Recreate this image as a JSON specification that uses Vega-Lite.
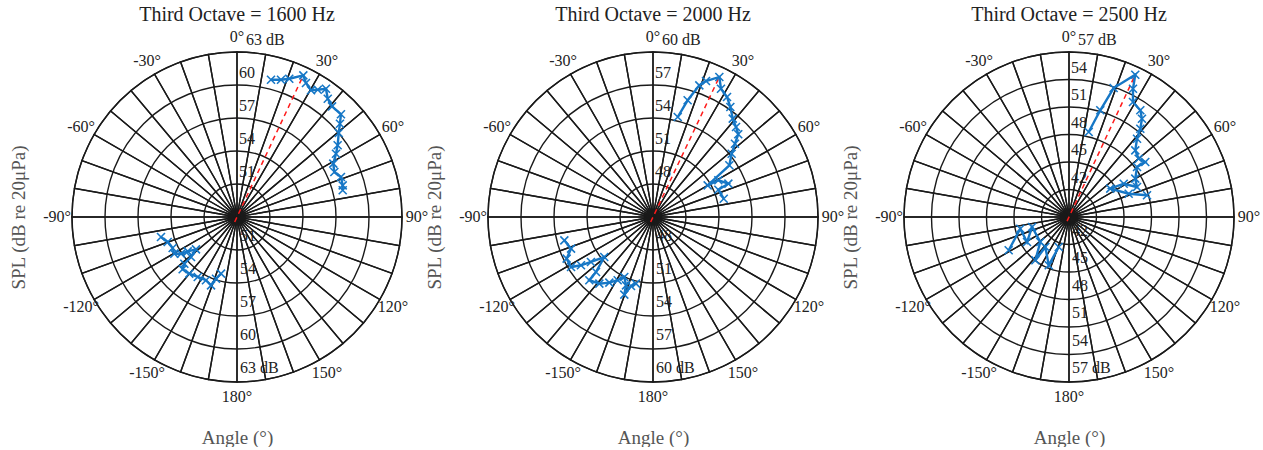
{
  "$schema": "https://vega.github.io/schema/vega-lite/v6.json",
  "background": "white",
  "padding": {"left": 9, "top": 5, "right": 0, "bottom": 0},
  "bounds": "flush",
  "spacing": 86,
  "datasets": {
    "spokes": [
      {"a0": 0, "a1": 10}, {"a0": 10, "a1": 20}, {"a0": 20, "a1": 30}, {"a0": 30, "a1": 40},
      {"a0": 40, "a1": 50}, {"a0": 50, "a1": 60}, {"a0": 60, "a1": 70}, {"a0": 70, "a1": 80},
      {"a0": 80, "a1": 90}, {"a0": 90, "a1": 100}, {"a0": 100, "a1": 110}, {"a0": 110, "a1": 120},
      {"a0": 120, "a1": 130}, {"a0": 130, "a1": 140}, {"a0": 140, "a1": 150}, {"a0": 150, "a1": 160},
      {"a0": 160, "a1": 170}, {"a0": 170, "a1": 180}, {"a0": 180, "a1": 190}, {"a0": 190, "a1": 200},
      {"a0": 200, "a1": 210}, {"a0": 210, "a1": 220}, {"a0": 220, "a1": 230}, {"a0": 230, "a1": 240},
      {"a0": 240, "a1": 250}, {"a0": 250, "a1": 260}, {"a0": 260, "a1": 270}, {"a0": 270, "a1": 280},
      {"a0": 280, "a1": 290}, {"a0": 290, "a1": 300}, {"a0": 300, "a1": 310}, {"a0": 310, "a1": 320},
      {"a0": 320, "a1": 330}, {"a0": 330, "a1": 340}, {"a0": 340, "a1": 350}, {"a0": 350, "a1": 360}
    ],
    "angs": [
      {"ang": 0, "t": "0°"}, {"ang": 30, "t": "30°"}, {"ang": 60, "t": "60°"}, {"ang": 90, "t": "90°"},
      {"ang": 120, "t": "120°"}, {"ang": 150, "t": "150°"}, {"ang": 180, "t": "180°"}, {"ang": 210, "t": "-150°"},
      {"ang": 240, "t": "-120°"}, {"ang": 270, "t": "-90°"}, {"ang": 300, "t": "-60°"}, {"ang": 330, "t": "-30°"}
    ],
    "rings1": [
      {"spl": 51, "t": "51"}, {"spl": 54, "t": "54"}, {"spl": 57, "t": "57"}, {"spl": 60, "t": "60"}, {"spl": 63, "t": "63 dB"}
    ],
    "rings2": [
      {"spl": 48, "t": "48"}, {"spl": 51, "t": "51"}, {"spl": 54, "t": "54"}, {"spl": 57, "t": "57"}, {"spl": 60, "t": "60 dB"}
    ],
    "rings3": [
      {"spl": 42, "t": "42"}, {"spl": 45, "t": "45"}, {"spl": 48, "t": "48"}, {"spl": 51, "t": "51"}, {"spl": 54, "t": "54"}, {"spl": 57, "t": "57 dB"}
    ],
    "max1": [{"x": -0.21, "y": -0.45}, {"x": 6.03, "y": 12.88}],
    "max2": [{"x": -0.21, "y": -0.45}, {"x": 6.03, "y": 12.73}],
    "max3": [{"x": -0.21, "y": -0.45}, {"x": 7.23, "y": 15.52}],
    "d1": [
      {"i": 1, "seg": "a", "x": 3.09, "y": 12.48}, {"i": 2, "seg": "a", "x": 4.0, "y": 12.48},
      {"i": 3, "seg": "a", "x": 4.75, "y": 12.57}, {"i": 4, "seg": "a", "x": 6.03, "y": 12.88},
      {"i": 5, "seg": "a", "x": 6.27, "y": 12.18}, {"i": 6, "seg": "a", "x": 6.73, "y": 11.52},
      {"i": 7, "seg": "a", "x": 7.34, "y": 11.57}, {"i": 8, "seg": "a", "x": 8.09, "y": 11.66},
      {"i": 9, "seg": "a", "x": 8.25, "y": 10.75}, {"i": 10, "seg": "a", "x": 8.64, "y": 10.06},
      {"i": 11, "seg": "a", "x": 9.45, "y": 9.34}, {"i": 12, "seg": "a", "x": 9.36, "y": 8.48},
      {"i": 13, "seg": "a", "x": 9.25, "y": 7.64}, {"i": 14, "seg": "a", "x": 9.15, "y": 6.52},
      {"i": 15, "seg": "a", "x": 9.0, "y": 5.75}, {"i": 16, "seg": "a", "x": 8.75, "y": 4.85},
      {"i": 17, "seg": "a", "x": 8.85, "y": 4.09}, {"i": 18, "seg": "a", "x": 9.45, "y": 3.64},
      {"i": 19, "seg": "a", "x": 9.61, "y": 2.88}, {"i": 20, "seg": "a", "x": 9.61, "y": 2.43},
      {"i": 21, "seg": "b", "x": -6.91, "y": -1.82}, {"i": 22, "seg": "b", "x": -6.30, "y": -2.27},
      {"i": 23, "seg": "b", "x": -5.85, "y": -2.82}, {"i": 24, "seg": "b", "x": -5.70, "y": -3.34},
      {"i": 25, "seg": "b", "x": -5.09, "y": -3.34}, {"i": 26, "seg": "b", "x": -4.48, "y": -3.12},
      {"i": 27, "seg": "b", "x": -3.73, "y": -2.94}, {"i": 28, "seg": "b", "x": -4.18, "y": -3.64},
      {"i": 29, "seg": "b", "x": -4.79, "y": -4.25}, {"i": 30, "seg": "b", "x": -4.94, "y": -4.75},
      {"i": 31, "seg": "b", "x": -4.34, "y": -5.15}, {"i": 32, "seg": "b", "x": -3.57, "y": -5.45},
      {"i": 33, "seg": "b", "x": -2.82, "y": -5.75}, {"i": 34, "seg": "b", "x": -2.36, "y": -6.21},
      {"i": 35, "seg": "b", "x": -1.91, "y": -5.61}, {"i": 36, "seg": "b", "x": -1.45, "y": -5.15}
    ],
    "d2": [
      {"i": 1, "seg": "a", "x": 2.25, "y": 9.09}, {"i": 2, "seg": "a", "x": 3.15, "y": 10.61},
      {"i": 3, "seg": "a", "x": 4.21, "y": 11.97}, {"i": 4, "seg": "a", "x": 4.82, "y": 12.36},
      {"i": 5, "seg": "a", "x": 6.03, "y": 12.73}, {"i": 6, "seg": "a", "x": 6.18, "y": 11.66},
      {"i": 7, "seg": "a", "x": 6.73, "y": 10.91}, {"i": 8, "seg": "a", "x": 7.03, "y": 10.0},
      {"i": 9, "seg": "a", "x": 7.25, "y": 8.94}, {"i": 10, "seg": "a", "x": 7.55, "y": 8.18},
      {"i": 11, "seg": "a", "x": 7.75, "y": 7.52}, {"i": 12, "seg": "a", "x": 7.45, "y": 6.66},
      {"i": 13, "seg": "a", "x": 7.15, "y": 5.75}, {"i": 14, "seg": "a", "x": 6.94, "y": 4.70},
      {"i": 15, "seg": "a", "x": 4.97, "y": 2.88}, {"i": 16, "seg": "a", "x": 5.94, "y": 3.34},
      {"i": 17, "seg": "a", "x": 6.85, "y": 3.03}, {"i": 18, "seg": "a", "x": 5.94, "y": 2.48},
      {"i": 19, "seg": "a", "x": 6.43, "y": 1.66},
      {"i": 20, "seg": "b", "x": -8.06, "y": -2.12}, {"i": 21, "seg": "b", "x": -7.45, "y": -2.88},
      {"i": 22, "seg": "b", "x": -7.85, "y": -3.79}, {"i": 23, "seg": "b", "x": -7.45, "y": -4.55},
      {"i": 24, "seg": "b", "x": -6.55, "y": -4.39}, {"i": 25, "seg": "b", "x": -5.64, "y": -4.09},
      {"i": 26, "seg": "b", "x": -4.43, "y": -3.64}, {"i": 27, "seg": "b", "x": -5.18, "y": -5.0},
      {"i": 28, "seg": "b", "x": -5.79, "y": -5.75}, {"i": 29, "seg": "b", "x": -4.88, "y": -6.06},
      {"i": 30, "seg": "b", "x": -3.97, "y": -5.97}, {"i": 31, "seg": "b", "x": -3.21, "y": -5.75},
      {"i": 32, "seg": "b", "x": -2.61, "y": -5.45}, {"i": 33, "seg": "b", "x": -2.45, "y": -6.21},
      {"i": 34, "seg": "b", "x": -2.61, "y": -7.06}, {"i": 35, "seg": "b", "x": -2.0, "y": -6.27},
      {"i": 36, "seg": "b", "x": -1.55, "y": -6.06}
    ],
    "d3": [
      {"i": 1, "seg": "a", "x": 2.15, "y": 9.27}, {"i": 2, "seg": "a", "x": 3.41, "y": 11.64},
      {"i": 3, "seg": "a", "x": 4.87, "y": 14.07}, {"i": 4, "seg": "a", "x": 7.23, "y": 15.52},
      {"i": 5, "seg": "a", "x": 6.98, "y": 13.99}, {"i": 6, "seg": "a", "x": 6.98, "y": 12.54},
      {"i": 7, "seg": "a", "x": 7.78, "y": 11.64}, {"i": 8, "seg": "a", "x": 7.96, "y": 10.72},
      {"i": 9, "seg": "a", "x": 7.78, "y": 9.63}, {"i": 10, "seg": "a", "x": 7.42, "y": 8.54},
      {"i": 11, "seg": "a", "x": 7.23, "y": 7.27}, {"i": 12, "seg": "a", "x": 7.60, "y": 6.36},
      {"i": 13, "seg": "a", "x": 8.32, "y": 6.0}, {"i": 14, "seg": "a", "x": 7.42, "y": 5.45},
      {"i": 15, "seg": "a", "x": 7.23, "y": 4.18}, {"i": 16, "seg": "a", "x": 7.42, "y": 3.27},
      {"i": 17, "seg": "a", "x": 5.97, "y": 3.63}, {"i": 18, "seg": "a", "x": 4.50, "y": 3.09},
      {"i": 19, "seg": "a", "x": 6.51, "y": 2.54}, {"i": 20, "seg": "a", "x": 8.51, "y": 2.37},
      {"i": 21, "seg": "b", "x": -6.58, "y": -3.63}, {"i": 22, "seg": "b", "x": -5.31, "y": -1.28},
      {"i": 23, "seg": "b", "x": -4.58, "y": -2.73}, {"i": 24, "seg": "b", "x": -4.03, "y": -1.09},
      {"i": 25, "seg": "b", "x": -3.13, "y": -2.73}, {"i": 26, "seg": "b", "x": -3.67, "y": -4.72},
      {"i": 27, "seg": "b", "x": -2.58, "y": -3.27}, {"i": 28, "seg": "b", "x": -2.21, "y": -5.27},
      {"i": 29, "seg": "b", "x": -1.12, "y": -3.27}
    ]
  },
  "hconcat": [
    {
      "title": "Third Octave = 1600 Hz",
      "width": 330, "height": 330,
      "layer": [
        {"data": {"name": "rings1"}, "transform": [{"filter": "datum.spl < 63"}], "mark": {"type": "text", "align": "left", "baseline": "middle", "dx": 2, "dy": -12, "font": "Liberation Serif", "fontSize": 16, "color": "#222"},
         "encoding": {"theta": {"value": 0}, "radius": {"field": "spl", "type": "quantitative", "stack": null, "scale": {"type": "linear", "domain": [48, 63], "range": [0, 165], "zero": false}}, "text": {"field": "t"}}},
        {"data": {"name": "rings1"}, "transform": [{"filter": "datum.spl == 63"}], "mark": {"type": "text", "align": "left", "baseline": "middle", "dx": 9, "dy": -12, "font": "Liberation Serif", "fontSize": 16, "color": "#222"},
         "encoding": {"theta": {"value": 0}, "radius": {"field": "spl", "type": "quantitative", "stack": null}, "text": {"field": "t"}}},
        {"data": {"name": "rings1"}, "mark": {"type": "text", "align": "left", "baseline": "middle", "dx": 3, "dy": -14, "font": "Liberation Serif", "fontSize": 16, "color": "#222"},
         "encoding": {"theta": {"value": 3.14159}, "radius": {"field": "spl", "type": "quantitative", "stack": null}, "text": {"field": "t"}}},
        {"data": {"name": "spokes"}, "mark": {"type": "arc", "fillOpacity": 0, "stroke": "#1a1a1a", "strokeWidth": 1.4, "radius": 165},
         "encoding": {"theta": {"field": "a0", "type": "quantitative", "stack": null, "scale": {"type": "linear", "domain": [0, 360], "range": [0, 6.283185]}}, "theta2": {"field": "a1"}}},
        {"data": {"name": "rings1"}, "mark": {"type": "arc", "fillOpacity": 0, "stroke": "#1a1a1a", "strokeWidth": 1.4, "theta": 0, "theta2": 6.2832},
         "encoding": {"radius": {"field": "spl", "type": "quantitative", "stack": null}}},
        {"data": {"name": "angs"}, "mark": {"type": "text", "align": "center", "baseline": "middle", "font": "Liberation Serif", "fontSize": 16, "color": "#222"},
         "encoding": {"theta": {"field": "ang", "type": "quantitative", "stack": null}, "radius": {"value": 180}, "text": {"field": "t"}}},
        {"data": {"name": "max1"}, "mark": {"type": "line", "color": "#ff1a1a", "strokeDash": [5, 4], "strokeWidth": 1.5},
         "encoding": {"x": {"field": "x", "type": "quantitative", "title": "Angle (°)", "scale": {"domain": [-15, 15], "nice": false, "zero": false}},
                      "y": {"field": "y", "type": "quantitative", "title": "SPL (dB re 20μPa)", "scale": {"domain": [-15, 15], "nice": false, "zero": false}}}},
        {"data": {"name": "d1"}, "mark": {"type": "line", "color": "#1677c6", "strokeWidth": 2.4},
         "encoding": {"x": {"field": "x", "type": "quantitative", "title": "Angle (°)"}, "y": {"field": "y", "type": "quantitative", "title": "SPL (dB re 20μPa)"}, "detail": {"field": "seg"}, "order": {"field": "i"}}},
        {"data": {"name": "d1"}, "mark": {"type": "point", "shape": "M-1,-1L1,1M-1,1L1,-1", "filled": false, "color": "#1677c6", "strokeWidth": 1.6, "size": 64, "opacity": 1},
         "encoding": {"x": {"field": "x", "type": "quantitative", "title": "Angle (°)"}, "y": {"field": "y", "type": "quantitative", "title": "SPL (dB re 20μPa)"}}}
      ]
    },
    {
      "title": "Third Octave = 2000 Hz",
      "width": 330, "height": 330,
      "layer": [
        {"data": {"name": "rings2"}, "transform": [{"filter": "datum.spl < 60"}], "mark": {"type": "text", "align": "left", "baseline": "middle", "dx": 2, "dy": -12, "font": "Liberation Serif", "fontSize": 16, "color": "#222"},
         "encoding": {"theta": {"value": 0}, "radius": {"field": "spl", "type": "quantitative", "stack": null, "scale": {"type": "linear", "domain": [45, 60], "range": [0, 165], "zero": false}}, "text": {"field": "t"}}},
        {"data": {"name": "rings2"}, "transform": [{"filter": "datum.spl == 60"}], "mark": {"type": "text", "align": "left", "baseline": "middle", "dx": 9, "dy": -12, "font": "Liberation Serif", "fontSize": 16, "color": "#222"},
         "encoding": {"theta": {"value": 0}, "radius": {"field": "spl", "type": "quantitative", "stack": null}, "text": {"field": "t"}}},
        {"data": {"name": "rings2"}, "mark": {"type": "text", "align": "left", "baseline": "middle", "dx": 3, "dy": -14, "font": "Liberation Serif", "fontSize": 16, "color": "#222"},
         "encoding": {"theta": {"value": 3.14159}, "radius": {"field": "spl", "type": "quantitative", "stack": null}, "text": {"field": "t"}}},
        {"data": {"name": "spokes"}, "mark": {"type": "arc", "fillOpacity": 0, "stroke": "#1a1a1a", "strokeWidth": 1.4, "radius": 165},
         "encoding": {"theta": {"field": "a0", "type": "quantitative", "stack": null, "scale": {"type": "linear", "domain": [0, 360], "range": [0, 6.283185]}}, "theta2": {"field": "a1"}}},
        {"data": {"name": "rings2"}, "mark": {"type": "arc", "fillOpacity": 0, "stroke": "#1a1a1a", "strokeWidth": 1.4, "theta": 0, "theta2": 6.2832},
         "encoding": {"radius": {"field": "spl", "type": "quantitative", "stack": null}}},
        {"data": {"name": "angs"}, "mark": {"type": "text", "align": "center", "baseline": "middle", "font": "Liberation Serif", "fontSize": 16, "color": "#222"},
         "encoding": {"theta": {"field": "ang", "type": "quantitative", "stack": null}, "radius": {"value": 180}, "text": {"field": "t"}}},
        {"data": {"name": "max2"}, "mark": {"type": "line", "color": "#ff1a1a", "strokeDash": [5, 4], "strokeWidth": 1.5},
         "encoding": {"x": {"field": "x", "type": "quantitative", "title": "Angle (°)", "scale": {"domain": [-15, 15], "nice": false, "zero": false}},
                      "y": {"field": "y", "type": "quantitative", "title": "SPL (dB re 20μPa)", "scale": {"domain": [-15, 15], "nice": false, "zero": false}}}},
        {"data": {"name": "d2"}, "mark": {"type": "line", "color": "#1677c6", "strokeWidth": 2.4},
         "encoding": {"x": {"field": "x", "type": "quantitative", "title": "Angle (°)"}, "y": {"field": "y", "type": "quantitative", "title": "SPL (dB re 20μPa)"}, "detail": {"field": "seg"}, "order": {"field": "i"}}},
        {"data": {"name": "d2"}, "mark": {"type": "point", "shape": "M-1,-1L1,1M-1,1L1,-1", "filled": false, "color": "#1677c6", "strokeWidth": 1.6, "size": 64, "opacity": 1},
         "encoding": {"x": {"field": "x", "type": "quantitative", "title": "Angle (°)"}, "y": {"field": "y", "type": "quantitative", "title": "SPL (dB re 20μPa)"}}}
      ]
    },
    {
      "title": "Third Octave = 2500 Hz",
      "width": 330, "height": 330,
      "layer": [
        {"data": {"name": "rings3"}, "transform": [{"filter": "datum.spl < 57"}], "mark": {"type": "text", "align": "left", "baseline": "middle", "dx": 2, "dy": -12, "font": "Liberation Serif", "fontSize": 16, "color": "#222"},
         "encoding": {"theta": {"value": 0}, "radius": {"field": "spl", "type": "quantitative", "stack": null, "scale": {"type": "linear", "domain": [39, 57], "range": [0, 165], "zero": false}}, "text": {"field": "t"}}},
        {"data": {"name": "rings3"}, "transform": [{"filter": "datum.spl == 57"}], "mark": {"type": "text", "align": "left", "baseline": "middle", "dx": 9, "dy": -12, "font": "Liberation Serif", "fontSize": 16, "color": "#222"},
         "encoding": {"theta": {"value": 0}, "radius": {"field": "spl", "type": "quantitative", "stack": null}, "text": {"field": "t"}}},
        {"data": {"name": "rings3"}, "mark": {"type": "text", "align": "left", "baseline": "middle", "dx": 3, "dy": -14, "font": "Liberation Serif", "fontSize": 16, "color": "#222"},
         "encoding": {"theta": {"value": 3.14159}, "radius": {"field": "spl", "type": "quantitative", "stack": null}, "text": {"field": "t"}}},
        {"data": {"name": "spokes"}, "mark": {"type": "arc", "fillOpacity": 0, "stroke": "#1a1a1a", "strokeWidth": 1.4, "radius": 165},
         "encoding": {"theta": {"field": "a0", "type": "quantitative", "stack": null, "scale": {"type": "linear", "domain": [0, 360], "range": [0, 6.283185]}}, "theta2": {"field": "a1"}}},
        {"data": {"name": "rings3"}, "mark": {"type": "arc", "fillOpacity": 0, "stroke": "#1a1a1a", "strokeWidth": 1.4, "theta": 0, "theta2": 6.2832},
         "encoding": {"radius": {"field": "spl", "type": "quantitative", "stack": null}}},
        {"data": {"name": "angs"}, "mark": {"type": "text", "align": "center", "baseline": "middle", "font": "Liberation Serif", "fontSize": 16, "color": "#222"},
         "encoding": {"theta": {"field": "ang", "type": "quantitative", "stack": null}, "radius": {"value": 180}, "text": {"field": "t"}}},
        {"data": {"name": "max3"}, "mark": {"type": "line", "color": "#ff1a1a", "strokeDash": [5, 4], "strokeWidth": 1.5},
         "encoding": {"x": {"field": "x", "type": "quantitative", "title": "Angle (°)", "scale": {"domain": [-18, 18], "nice": false, "zero": false}},
                      "y": {"field": "y", "type": "quantitative", "title": "SPL (dB re 20μPa)", "scale": {"domain": [-18, 18], "nice": false, "zero": false}}}},
        {"data": {"name": "d3"}, "mark": {"type": "line", "color": "#1677c6", "strokeWidth": 2.4},
         "encoding": {"x": {"field": "x", "type": "quantitative", "title": "Angle (°)"}, "y": {"field": "y", "type": "quantitative", "title": "SPL (dB re 20μPa)"}, "detail": {"field": "seg"}, "order": {"field": "i"}}},
        {"data": {"name": "d3"}, "mark": {"type": "point", "shape": "M-1,-1L1,1M-1,1L1,-1", "filled": false, "color": "#1677c6", "strokeWidth": 1.6, "size": 64, "opacity": 1},
         "encoding": {"x": {"field": "x", "type": "quantitative", "title": "Angle (°)"}, "y": {"field": "y", "type": "quantitative", "title": "SPL (dB re 20μPa)"}}}
      ]
    }
  ],
  "config": {
    "view": {"stroke": null},
    "font": "Liberation Serif",
    "title": {"font": "Liberation Serif", "fontSize": 20, "fontWeight": "normal", "color": "#222", "offset": 4, "frame": "group"},
    "axis": {"domain": false, "ticks": false, "labels": false, "grid": false, "titleFont": "Liberation Serif", "titleFontSize": 19, "titleFontWeight": "normal", "titleColor": "#555"},
    "axisX": {"titlePadding": 46},
    "axisY": {"titlePadding": 44}
  }
}
